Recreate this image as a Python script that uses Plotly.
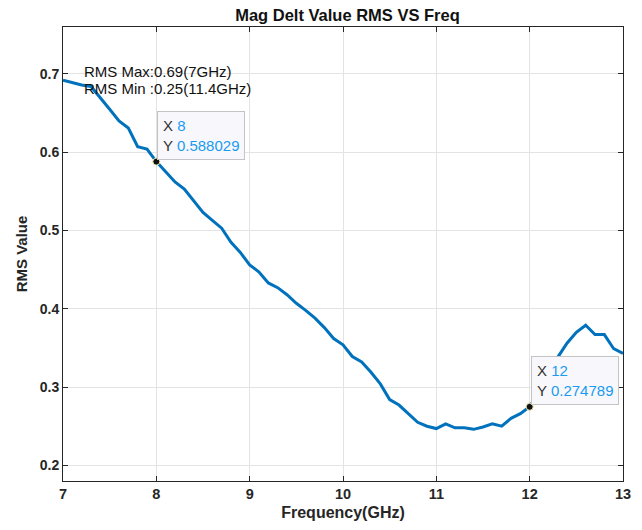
import plotly.graph_objects as go

# Frequency sweep (GHz) and RMS of the magnitude delta
freq_ghz = [round(7.0 + 0.1 * i, 1) for i in range(61)]
rms_value = [
    0.692, 0.689, 0.686, 0.684, 0.670, 0.655, 0.640, 0.631, 0.607, 0.604,  # 7.0 - 7.9
    0.588, 0.575, 0.562, 0.553, 0.538, 0.523, 0.513, 0.503, 0.485, 0.472,  # 8.0 - 8.9
    0.456, 0.447, 0.433, 0.427, 0.418, 0.407, 0.398, 0.388, 0.376, 0.362,  # 9.0 - 9.9
    0.354, 0.339, 0.332, 0.319, 0.304, 0.284, 0.277, 0.266, 0.255, 0.250,  # 10.0 - 10.9
    0.247, 0.253, 0.248, 0.248, 0.246, 0.249, 0.253, 0.250, 0.260, 0.266,  # 11.0 - 11.9
    0.274789, 0.295, 0.317, 0.338, 0.356, 0.370, 0.379, 0.367, 0.367, 0.349,  # 12.0 - 12.9
    0.343,  # 13.0
]

# Data tips
tip_x = [8, 12]
tip_y = [0.588029, 0.274789]

# Summary text
summary_lines = ["RMS Max:0.69(7GHz)", "RMS Min :0.25(11.4GHz)"]

x_ticks = [7, 8, 9, 10, 11, 12, 13]
y_ticks = [0.2, 0.3, 0.4, 0.5, 0.6, 0.7]

LINE_BLUE = "#0072BD"
TIP_BLUE = "#1a9bf0"
AXIS_GRAY = "#262626"
FONT = "Liberation Sans, Arial, Helvetica, sans-serif"

fig = go.Figure()

fig.add_trace(go.Scatter(
    x=freq_ghz, y=rms_value, mode="lines",
    line=dict(color=LINE_BLUE, width=3),
    showlegend=False, hoverinfo="x+y",
))

fig.add_trace(go.Scatter(
    x=tip_x, y=tip_y, mode="markers",
    marker=dict(color="#111111", size=7, line=dict(color="#efe6a6", width=1)),
    showlegend=False, hoverinfo="skip",
))

annotations = []
for tx, ty in zip(tip_x, tip_y):
    annotations.append(dict(
        x=tx, y=ty, xref="x", yref="y",
        text=(f"<span style='color:#333333'>X</span> <span style='color:{TIP_BLUE}'>{tx:g}</span><br>"
              f"<span style='color:#333333'>Y</span> <span style='color:{TIP_BLUE}'>{ty:.6f}</span>"),
        showarrow=False, xanchor="left", yanchor="bottom", align="left",
        xshift=1, yshift=2,
        bgcolor="#f8f8fc", bordercolor="#c4c4c4", borderwidth=1, borderpad=5,
        font=dict(family=FONT, size=15, color="#333333"),
    ))

for line_text, y_pos in zip(summary_lines, [0.7026, 0.681]):
    annotations.append(dict(
        x=7.2, y=y_pos, xref="x", yref="y",
        text=line_text, showarrow=False, xanchor="left", yanchor="middle",
        font=dict(family=FONT, size=15, color="#111111"),
    ))

fig.update_layout(
    width=642, height=530,
    margin=dict(l=63, r=19, t=27, b=49),
    paper_bgcolor="white", plot_bgcolor="white",
    title=dict(
        text="<b>Mag Delt Value RMS VS Freq</b>",
        xref="paper", x=0.508, xanchor="center", y=0.971, yanchor="middle",
        font=dict(family=FONT, size=16.5, color="#111111"),
    ),
    annotations=annotations,
    font=dict(family=FONT),
)

fig.update_xaxes(
    range=[7, 13], tickvals=x_ticks, ticktext=[f"<b>{v}</b>" for v in x_ticks],
    showgrid=True, gridcolor="#e3e3e3", gridwidth=1,
    showline=True, linecolor=AXIS_GRAY, linewidth=1, mirror="ticks",
    ticks="inside", ticklen=5, tickcolor=AXIS_GRAY,
    tickfont=dict(family=FONT, size=14.5, color=AXIS_GRAY),
    title=dict(text="<b>Frequency(GHz)</b>", standoff=5,
               font=dict(family=FONT, size=16, color=AXIS_GRAY)),
    zeroline=False,
)

fig.update_yaxes(
    range=[0.18, 0.76], tickvals=y_ticks, ticktext=[f"<b>{v:.1f}</b>" for v in y_ticks],
    showgrid=True, gridcolor="#e3e3e3", gridwidth=1,
    showline=True, linecolor=AXIS_GRAY, linewidth=1, mirror="ticks",
    ticks="inside", ticklen=5, tickcolor=AXIS_GRAY,
    tickfont=dict(family=FONT, size=14, color=AXIS_GRAY),
    title=dict(text="<b>RMS Value</b>", standoff=8,
               font=dict(family=FONT, size=15, color=AXIS_GRAY)),
    zeroline=False,
)

fig.write_html("out.html")
